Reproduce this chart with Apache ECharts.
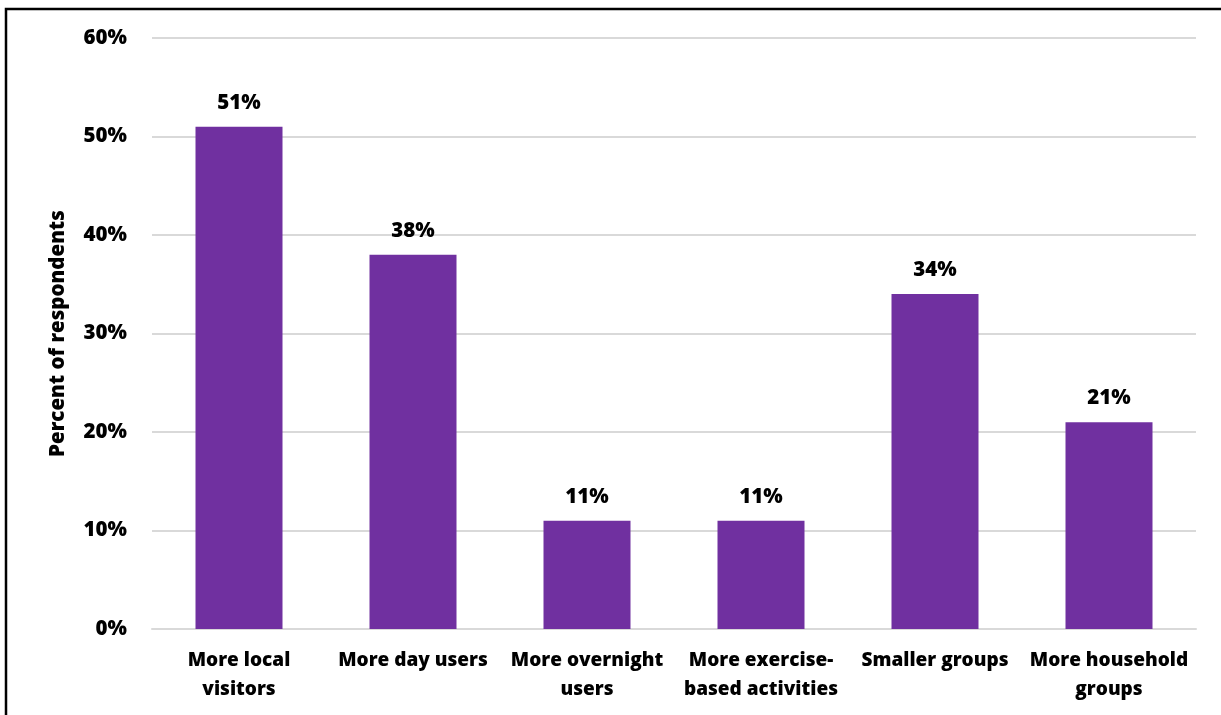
<!DOCTYPE html>
<html>
<head>
<meta charset="utf-8">
<script src="https://cdn.jsdelivr.net/npm/echarts@6/dist/echarts.min.js"></script>
<style>
  html, body { margin: 0; padding: 0; background: #fff; }
  #chart { width: 1221px; height: 715px; }
</style>
</head>
<body>
<div id="chart"></div>
<script>
// Survey responses: expected changes in visitor profile
const categories = [
  'More local\nvisitors',
  'More day users',
  'More overnight\nusers',
  'More exercise-\nbased activities',
  'Smaller groups',
  'More household\ngroups'
];
const percentValues = [51, 38, 11, 11, 34, 21];
const yTicks = [0, 10, 20, 30, 40, 50, 60];
const axisTitle = 'Percent of respondents';

const FONT = '"Open Sans", sans-serif';
const WEIGHT = 800;
const chart = echarts.init(document.getElementById('chart'), null, { renderer: 'canvas' });

chart.setOption({
  animation: false,
  backgroundColor: '#ffffff',
  graphic: [{
    type: 'rect',
    shape: { x: 6, y: 9, width: 1240, height: 740 },
    style: { fill: 'none', stroke: '#000', lineWidth: 2.5 },
    silent: true
  }],
  grid: { left: 152, right: 25, top: 38, bottom: 86 },
  xAxis: {
    type: 'category',
    data: categories,
    axisLine: { show: true, lineStyle: { color: '#d9d9d9', width: 2 } },
    axisTick: { show: false },
    axisLabel: {
      interval: 0,
      color: '#000',
      fontFamily: FONT,
      fontWeight: WEIGHT,
      fontSize: 19,
      lineHeight: 29,
      margin: 17
    }
  },
  yAxis: {
    type: 'value',
    min: yTicks[0],
    max: yTicks[yTicks.length - 1],
    interval: 10,
    name: axisTitle,
    nameLocation: 'middle',
    nameGap: 83,
    nameRotate: 90,
    nameTextStyle: { color: '#000', fontFamily: FONT, fontWeight: WEIGHT, fontSize: 20.5 },
    axisLine: { show: false },
    axisTick: { show: false },
    splitLine: { lineStyle: { color: '#d9d9d9', width: 2 } },
    axisLabel: {
      color: '#000',
      fontFamily: FONT,
      fontWeight: WEIGHT,
      fontSize: 20.5,
      margin: 25,
      formatter: v => v + '%'
    }
  },
  series: [{
    type: 'bar',
    data: percentValues,
    barWidth: '50%',
    itemStyle: { color: '#7030A0' },
    label: {
      show: true,
      position: 'top',
      distance: 13,
      color: '#000',
      fontFamily: FONT,
      fontWeight: WEIGHT,
      fontSize: 20.5,
      formatter: p => p.value + '%'
    }
  }]
});
</script>
</body>
</html>
